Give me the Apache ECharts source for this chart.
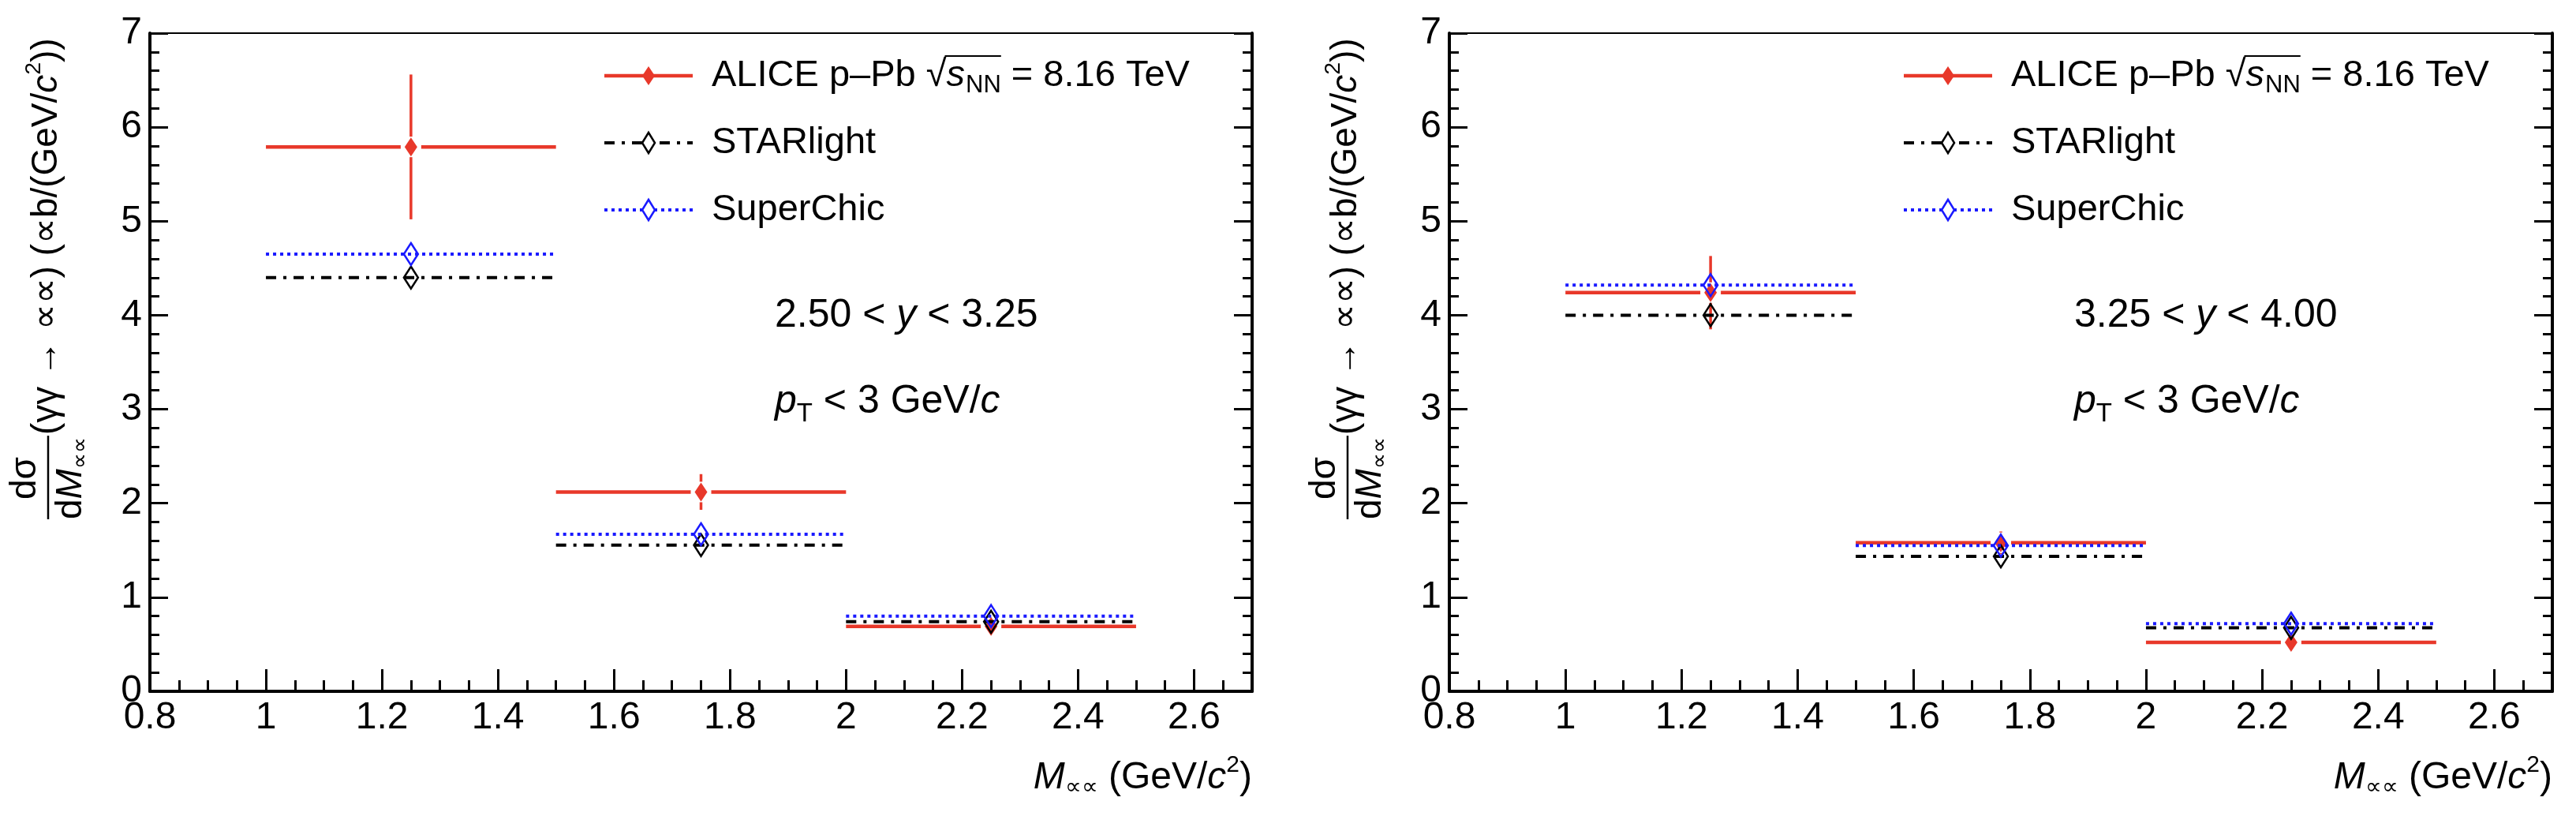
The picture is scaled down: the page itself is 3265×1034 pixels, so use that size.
<!DOCTYPE html>
<html><head><meta charset="utf-8">
<script src="https://cdn.jsdelivr.net/npm/echarts@6/dist/echarts.min.js"></script>
<style>html,body{margin:0;padding:0;background:#fff}#c{width:3265px;height:1034px}</style>
</head><body><div id="c"></div>
<script>
// ---------------- data ----------------
const binLow = [1.0, 1.5, 2.0];
const binHigh = [1.5, 2.0, 2.5];
const binCenter = [1.25, 1.75, 2.25];
const xMin = 0.8, xMax = 2.7, xStep = 0.2;
const yMin = 0, yMax = 7, yStep = 1;

const aliceLeft = [5.79, 2.12, 0.69];
const aliceLeftErr = [0.77, 0.19, 0.09];
const starlightLeft = [4.40, 1.555, 0.74];
const superchicLeft = [4.65, 1.67, 0.80];

const aliceRight = [4.24, 1.58, 0.52];
const aliceRightErr = [0.39, 0.12, 0.05];
const starlightRight = [4.00, 1.435, 0.675];
const superchicRight = [4.32, 1.55, 0.72];

const rapidityRanges = [['2.50', '3.25'], ['3.25', '4.00']];
const legendNames = ['ALICE p–Pb', 'STARlight', 'SuperChic'];

// ---------------- style ----------------
const FONT = '"Liberation Sans", Arial, Helvetica, sans-serif';
const RED = '#e8382a', BLUE = '#1a1aff', BLACK = '#000';
const grids = [
  {left: 190, top: 42, width: 1397, height: 834},
  {left: 1837, top: 42, width: 1398, height: 834}
];

const mctx = document.createElement('canvas').getContext('2d');
function tw(t, size, it) { mctx.font = (it ? 'italic ' : '') + size + 'px ' + FONT; return mctx.measureText(t).width; }
function runs(pieces, x0, y0) {
  let x = x0; const els = [];
  for (const p of pieces) {
    els.push({type: 'text', x: x, y: y0 + (p.dy || 0), z: 50,
      style: {text: p.t, fontSize: p.s, fontFamily: FONT, fontStyle: p.it ? 'italic' : 'normal',
        fill: BLACK, align: 'left', verticalAlign: 'middle'}});
    x += tw(p.t, p.s, p.it) + (p.k || 0);
  }
  return {els, width: x - x0};
}
function width(pieces) { return pieces.reduce((a, p) => a + tw(p.t, p.s, p.it) + (p.k || 0), 0); }

// ---------------- series ----------------
function diamond(cx, cy, hw, hh) { return [[cx, cy - hh], [cx + hw, cy], [cx, cy + hh], [cx - hw, cy]]; }
function dataRender(params, api) {
  const xc = api.value(0), y = api.value(1), e = api.value(2), lo = api.value(3), hi = api.value(4);
  const c = api.coord([xc, y]), l = api.coord([lo, y]), h = api.coord([hi, y]);
  const t = api.coord([xc, y + e]), b = api.coord([xc, y - e]);
  const g = 13, ch = [];
  const ls = {stroke: RED, lineWidth: 4.5};
  ch.push({type: 'line', shape: {x1: l[0], y1: c[1], x2: c[0] - g, y2: c[1]}, style: ls});
  ch.push({type: 'line', shape: {x1: c[0] + g, y1: c[1], x2: h[0], y2: c[1]}, style: ls});
  if (t[1] < c[1] - g) ch.push({type: 'line', shape: {x1: c[0], y1: t[1], x2: c[0], y2: c[1] - g}, style: {stroke: RED, lineWidth: 3.5}});
  if (b[1] > c[1] + g) ch.push({type: 'line', shape: {x1: c[0], y1: c[1] + g, x2: c[0], y2: b[1]}, style: {stroke: RED, lineWidth: 3.5}});
  ch.push({type: 'polygon', shape: {points: diamond(c[0], c[1], 8, 12)}, style: {fill: RED}});
  return {type: 'group', children: ch};
}
function modelRender(color, dash) {
  return function (params, api) {
    const xc = api.value(0), y = api.value(1), lo = api.value(3), hi = api.value(4);
    const c = api.coord([xc, y]), l = api.coord([lo, y]), h = api.coord([hi, y]);
    return {type: 'group', children: [
      {type: 'line', shape: {x1: l[0], y1: c[1], x2: h[0], y2: c[1]}, style: {stroke: color, lineWidth: 4, lineDash: dash}},
      {type: 'polygon', shape: {points: diamond(c[0], c[1], 9, 14)}, style: {fill: 'none', stroke: color, lineWidth: 2.5}}
    ]};
  };
}
const DASH_STAR = [13, 9, 4, 9];
const DASH_SC = [4, 5];
function mk(vals, errs) { return vals.map((v, i) => [binCenter[i], v, errs ? errs[i] : 0, binLow[i], binHigh[i]]); }

const panels = [
  {alice: aliceLeft, err: aliceLeftErr, star: starlightLeft, sc: superchicLeft},
  {alice: aliceRight, err: aliceRightErr, star: starlightRight, sc: superchicRight}
];
const series = [];
panels.forEach((p, gi) => {
  const ax = {xAxisIndex: gi * 2, yAxisIndex: gi * 2};
  series.push(Object.assign({type: 'custom', name: 'ALICE', data: mk(p.alice, p.err), renderItem: dataRender, z: 3}, ax));
  series.push(Object.assign({type: 'custom', name: 'STARlight', data: mk(p.star), renderItem: modelRender(BLACK, DASH_STAR), z: 4}, ax));
  series.push(Object.assign({type: 'custom', name: 'SuperChic', data: mk(p.sc), renderItem: modelRender(BLUE, DASH_SC), z: 5}, ax));
});

// ---------------- axes ----------------
const xAxes = [], yAxes = [];
grids.forEach((g, gi) => {
  xAxes.push({gridIndex: gi, type: 'value', min: xMin, max: xMax, interval: xStep, position: 'bottom',
    axisLine: {show: true, onZero: false, lineStyle: {color: BLACK, width: 4}},
    axisTick: {show: true, inside: true, length: 28, lineStyle: {color: BLACK, width: 3}},
    axisLabel: {show: true, margin: 10, fontSize: 48, fontFamily: FONT, color: BLACK,
      formatter: v => Math.abs(v - xMax) < 1e-6 ? '' : String(Math.round(v * 10) / 10)},
    splitLine: {show: false}});
  xAxes.push({gridIndex: gi, type: 'value', min: xMin, max: xMax, interval: 0.05, position: 'bottom',
    axisLine: {show: false}, axisTick: {show: true, inside: true, length: 14, lineStyle: {color: BLACK, width: 3}},
    axisLabel: {show: false}, splitLine: {show: false}});
  ['left', 'right'].forEach(pos => {
    yAxes.push({gridIndex: gi, type: 'value', min: yMin, max: yMax, interval: yStep, position: pos,
      axisLine: {show: true, onZero: false, lineStyle: {color: BLACK, width: 4}},
      axisTick: {show: true, inside: true, length: 23, lineStyle: {color: BLACK, width: 3}},
      minorTick: {show: true, splitNumber: 5, length: 12, lineStyle: {color: BLACK, width: 3}},
      axisLabel: {show: pos === 'left', margin: 10, fontSize: 48, fontFamily: FONT, color: BLACK},
      splitLine: {show: false}});
  });
});

// ---------------- annotations ----------------
const graphics = [];
grids.forEach((g, gi) => {
  const gx = g.left;
  // legend
  const rows = [96, 181, 266];
  const lx1 = gx + 576, lx2 = gx + 688, mx = gx + 632, tx = gx + 712;
  graphics.push({type: 'line', shape: {x1: lx1, y1: rows[0], x2: lx2, y2: rows[0]}, style: {stroke: RED, lineWidth: 4.5}});
  graphics.push({type: 'polygon', shape: {points: diamond(mx, rows[0], 8, 12)}, style: {fill: RED}});
  graphics.push({type: 'line', shape: {x1: lx1, y1: rows[1], x2: lx2, y2: rows[1]}, style: {stroke: BLACK, lineWidth: 4, lineDash: DASH_STAR}});
  graphics.push({type: 'polygon', shape: {points: diamond(mx, rows[1], 8, 13)}, style: {fill: '#fff', stroke: BLACK, lineWidth: 2.5}});
  graphics.push({type: 'line', shape: {x1: lx1, y1: rows[2], x2: lx2, y2: rows[2]}, style: {stroke: BLUE, lineWidth: 4, lineDash: DASH_SC}});
  graphics.push({type: 'polygon', shape: {points: diamond(mx, rows[2], 8, 13)}, style: {fill: '#fff', stroke: BLUE, lineWidth: 2.5}});
  const fl = 47;
  const r1a = runs([{t: legendNames[0] + ' ', s: fl}, {t: '√', s: fl}], tx, rows[0]);
  const r1b = runs([{t: 's', s: fl, it: true, k: 1}, {t: 'NN', s: 31, dy: 12}], tx + r1a.width, rows[0]);
  const r1c = runs([{t: ' = 8.16 TeV', s: fl}], tx + r1a.width + r1b.width, rows[0]);
  graphics.push(...r1a.els, ...r1b.els, ...r1c.els);
  graphics.push({type: 'line', shape: {x1: tx + r1a.width - 2, y1: rows[0] - 25, x2: tx + r1a.width + r1b.width, y2: rows[0] - 25}, style: {stroke: BLACK, lineWidth: 2}});
  graphics.push(...runs([{t: legendNames[1], s: fl}], tx, rows[1]).els);
  graphics.push(...runs([{t: legendNames[2], s: fl}], tx, rows[2]).els);
  // rapidity and pT text
  const fa = 50;
  const rr = rapidityRanges[gi];
  graphics.push(...runs([{t: rr[0] + ' < ', s: fa}, {t: 'y', s: fa, it: true}, {t: ' < ' + rr[1], s: fa}], gx + 792, 400).els);
  graphics.push(...runs([{t: 'p', s: fa, it: true}, {t: 'T', s: 33, dy: 16}, {t: ' < 3 GeV/', s: fa}, {t: 'c', s: fa, it: true}], gx + 792, 509).els);
  // x-axis title, right aligned to the grid edge
  const xt = [{t: 'M', s: 48, it: true}, {t: '∝∝', s: 29, dy: 12}, {t: ' (GeV/', s: 48}, {t: 'c', s: 48, it: true}, {t: '2', s: 30, dy: -16}, {t: ')', s: 48}];
  const xw = width(xt);
  graphics.push(...runs(xt, gx + g.width - xw, 986).els);
  // y-axis title (rotated group), fitted between y=658 and y=48
  const ff = 46;
  const den = [{t: 'd', s: ff}, {t: 'M', s: ff, it: true}, {t: '∝∝', s: 28, dy: 12}];
  const num = [{t: 'dσ', s: ff}];
  const dw = width(den), nw = width(num);
  const ch = [];
  ch.push(...runs(den, 0, 31).els);
  ch.push(...runs(num, (dw - nw) / 2, -27).els);
  ch.push({type: 'line', shape: {x1: 0, y1: 2, x2: dw + 2, y2: 2}, style: {stroke: BLACK, lineWidth: 2.5}});
  const mainAt = s => [{t: '(γγ → ∝∝) (∝b/(GeV/', s: s}, {t: 'c', s: s, it: true}, {t: '2', s: s * 0.62, dy: -s * 0.34}, {t: '))', s: s}];
  const avail = (658 - 48) - dw - 3;
  const fm = Math.min(52, 50 * avail / width(mainAt(50)));
  ch.push(...runs(mainAt(fm), dw + 3, 0).els);
  graphics.push({type: 'group', x: gx - 131, y: 658, rotation: Math.PI / 2, children: ch});
});

const chart = echarts.init(document.getElementById('c'));
chart.setOption({
  animation: false,
  backgroundColor: '#fff',
  grid: grids.map(g => Object.assign({show: true, borderColor: BLACK, borderWidth: 2, backgroundColor: 'transparent'}, g)),
  xAxis: xAxes,
  yAxis: yAxes,
  series: series,
  graphic: graphics
});
</script></body></html>
